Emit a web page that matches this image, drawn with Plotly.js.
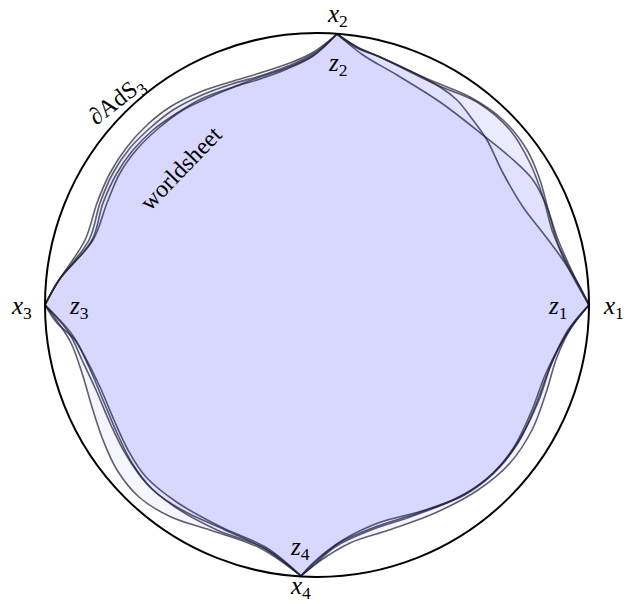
<!DOCTYPE html>
<html><head><meta charset="utf-8">
<script src="https://cdn.plot.ly/plotly-3.0.1.min.js"></script>
<style>html,body{margin:0;padding:0;background:#fff}#chart{width:626px;height:604px}</style>
</head><body><div id="chart"></div>
<script>
// boundary circle (units: figure units, circle radius = 272)
const circleRadius = 272;
// cusp points on the boundary: x1, x2, x3, x4
const cuspX = [272, 20, -272, -16];
const cuspY = [0, 271, 0, -271];

// four worldsheet curves, each given edge by edge (x2->x1, x1->x4, x4->x3, x3->x2)
const aTR = [[46,250],[80,230],[123,203],[166,170],[193,148],[216,125],[230,98],[240,68],[253,38]];
const aBR = [[254,-22],[236,-55],[222,-95],[204,-132],[183,-162],[151,-188],[108,-205],[61,-218],[26,-235],[-3,-257]];
const aBL = [[-50,-245],[-92,-225],[-135,-205],[-164,-185],[-185,-158],[-200,-128],[-214,-95],[-228,-62],[-242,-35],[-260,-18]];
const aTL = [[-258,25],[-225,65],[-214,102],[-200,132],[-184,155],[-164,175],[-140,192],[-114,207],[-84,218],[-57,228],[-28,238],[-3,250]];

const bTR = [[40,257],[63,248],[123,218],[140,205],[156,185],[170,165],[186,132],[206,98],[226,72],[246,45],[263,18]];
const bBR = [[251,-25],[233,-62],[218,-102],[201,-138],[176,-168],[143,-192],[101,-208],[58,-222],[22,-238],[-3,-258]];
const bBL = [[-50,-243],[-96,-222],[-139,-198],[-171,-172],[-189,-145],[-203,-115],[-217,-82],[-232,-52],[-246,-28]];
const bTL = [[-258,25],[-224,65],[-210,102],[-197,132],[-179,157],[-157,178],[-134,195],[-107,208],[-80,219],[-57,226],[-30,236],[-4,249]];

const cTR = [[40,258],[63,248],[113,225],[153,208],[186,185],[210,155],[223,125],[233,88],[243,55],[256,28]];
const cBR = [[254,-23],[240,-52],[229,-88],[215,-125],[193,-158],[161,-185],[118,-208],[72,-225],[33,-238],[0,-258]];
const cBL = [[-57,-243],[-107,-225],[-146,-212],[-178,-192],[-200,-165],[-214,-135],[-225,-102],[-235,-68],[-246,-38],[-260,-16]];
const cTL = [[-260,22],[-232,65],[-220,102],[-207,132],[-190,158],[-170,180],[-147,198],[-117,213],[-87,223],[-57,232],[-30,241],[-5,252]];

const dTR = [[40,258],[63,248],[120,220],[160,203],[193,175],[213,142],[226,108],[236,72],[250,42]];
const dBR = [[251,-27],[229,-68],[215,-105],[197,-142],[172,-172],[136,-195],[93,-212],[54,-225],[18,-242],[-3,-260]];
const dBL = [[-53,-243],[-100,-225],[-142,-202],[-171,-178],[-192,-148],[-207,-118],[-221,-85],[-235,-55],[-248,-28]];
const dTL = [[-258,25],[-228,65],[-217,102],[-204,132],[-187,157],[-167,177],[-144,195],[-115,210],[-85,221],[-57,229],[-29,239],[-4,251]];

// labels
const labelText = ['<i>x</i><sub>1</sub>','<i>x</i><sub>2</sub>','<i>x</i><sub>3</sub>','<i>x</i><sub>4</sub>',
                   '<i>z</i><sub>1</sub>','<i>z</i><sub>2</sub>','<i>z</i><sub>3</sub>','<i>z</i><sub>4</sub>'];
const labelX = [296, 20, -296, -17, 240, 20, -238, -17];
const labelY = [-2, 290, -2, -282, -2, 241, -2, -243];
const boundaryLabel = '∂AdS<sub>3</sub>';
const boundaryPos = [-200, 203];
const sheetLabel = 'worldsheet';
const sheetPos = [-136, 137];

function pt(i){ return [cuspX[i], cuspY[i]]; }
function buildSheet(tr, br, bl, tl){
  const seq = [pt(1), pt(1), ...tr, pt(0), pt(0), ...br, pt(3), pt(3), ...bl, pt(2), pt(2), ...tl, pt(1), pt(1)];
  return {x: seq.map(p=>p[0]), y: seq.map(p=>p[1])};
}
const sheets = [buildSheet(aTR,aBR,aBL,aTL), buildSheet(bTR,bBR,bBL,bTL),
                buildSheet(cTR,cBR,cBL,cTL), buildSheet(dTR,dBR,dBL,dTL)];

const traces = sheets.map(s => ({
  type:'scatter', mode:'lines', x:s.x, y:s.y,
  fill:'toself', fillcolor:'rgba(0,0,255,0.04)',
  line:{shape:'spline', smoothing:1, simplify:false, color:'rgba(35,35,55,0.72)', width:1.6},
  hoverinfo:'skip'
}));

const serif = 'Liberation Serif';
const annotations = labelText.map((t,i)=>({
  x:labelX[i], y:labelY[i], xref:'x', yref:'y', text:t, showarrow:false,
  font:{family:serif, size:25, color:'#000'}
}));
annotations.push({x:boundaryPos[0], y:boundaryPos[1], xref:'x', yref:'y', text:boundaryLabel,
  showarrow:false, textangle:-38, font:{family:serif, size:24, color:'#000'}});
annotations.push({x:sheetPos[0], y:sheetPos[1], xref:'x', yref:'y', text:sheetLabel,
  showarrow:false, textangle:-46, font:{family:serif, size:24, color:'#000'}});

const layout = {
  width:626, height:604, margin:{l:0,r:0,t:0,b:0},
  paper_bgcolor:'#fff', plot_bgcolor:'#fff', showlegend:false,
  xaxis:{range:[-317,309], visible:false, fixedrange:true},
  yaxis:{range:[-299,305], visible:false, fixedrange:true},
  shapes:[{type:'circle', xref:'x', yref:'y', x0:-circleRadius, x1:circleRadius,
           y0:-circleRadius, y1:circleRadius, line:{color:'#000', width:2}, layer:'above'}],
  annotations
};
Plotly.newPlot('chart', traces, layout, {staticPlot:true, displayModeBar:false});
</script></body></html>
